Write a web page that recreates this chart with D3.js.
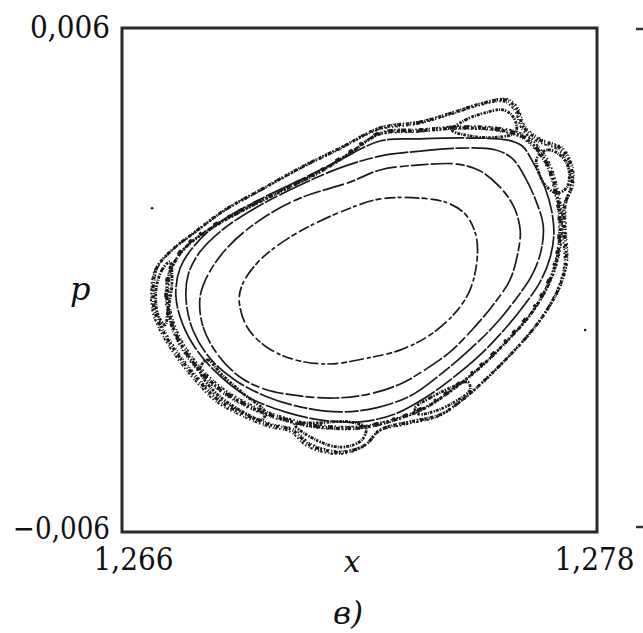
<!DOCTYPE html>
<html>
<head>
<meta charset="utf-8">
<script src="https://cdn.jsdelivr.net/npm/d3@7"></script>
<style>
  html, body { margin: 0; padding: 0; background: #fff; }
  svg { display: block; }
</style>
</head>
<body>
<script>
// tick labels on the two axes
const X_TICKS = [1.266, 1.278];
const P_TICKS = [-0.006, 0.006];

// regular invariant curves, innermost first, as [x, p]
const torus1 = [
  [1.26896, -0.00048], [1.26916, -0.00112], [1.26966, -0.00160], [1.27037, -0.00190],
  [1.27125, -0.00200], [1.27219, -0.00186], [1.27302, -0.00167], [1.27378, -0.00131],
  [1.27441, -0.00079], [1.27479, -0.00024], [1.27497, 0.00048], [1.27494, 0.00107],
  [1.27469, 0.00155], [1.27424, 0.00183], [1.27353, 0.00195], [1.27252, 0.00193],
  [1.27176, 0.00171], [1.27042, 0.00112], [1.26949, 0.00048], [1.26906, -0.00007]
];
const torus2 = [
  [1.26797, -0.00043], [1.26805, -0.00112], [1.26843, -0.00179], [1.26898, -0.00231],
  [1.26961, -0.00260], [1.27050, -0.00276], [1.27138, -0.00281], [1.27227, -0.00271],
  [1.27302, -0.00248], [1.27365, -0.00214], [1.27429, -0.00171], [1.27484, -0.00119],
  [1.27537, -0.00060], [1.27580, 0.00000], [1.27600, 0.00064], [1.27606, 0.00119],
  [1.27590, 0.00174], [1.27555, 0.00221], [1.27504, 0.00260], [1.27446, 0.00276],
  [1.27353, 0.00274], [1.27252, 0.00262], [1.27176, 0.00233], [1.27050, 0.00195],
  [1.26949, 0.00143], [1.26868, 0.00079], [1.26817, 0.00012]
];
const torus3 = [
  [1.27252, 0.00295], [1.27353, 0.00307], [1.27454, 0.00314], [1.27542, 0.00310],
  [1.27585, 0.00290], [1.27618, 0.00245], [1.27648, 0.00183], [1.27664, 0.00131],
  [1.27659, 0.00071], [1.27636, 0.00012], [1.27593, -0.00048], [1.27537, -0.00112],
  [1.27472, -0.00171], [1.27403, -0.00226], [1.27328, -0.00276], [1.27239, -0.00305],
  [1.27151, -0.00314], [1.27050, -0.00302], [1.26961, -0.00276], [1.26885, -0.00238],
  [1.26822, -0.00186], [1.26779, -0.00119], [1.26762, -0.00048], [1.26767, 0.00012],
  [1.26797, 0.00067], [1.26853, 0.00119], [1.26936, 0.00171], [1.27050, 0.00226],
  [1.27151, 0.00267]
];
const torus4 = [
  [1.27252, 0.00331], [1.27353, 0.00336], [1.27479, 0.00338], [1.27575, 0.00333],
  [1.27611, 0.00319], [1.27638, 0.00281], [1.27669, 0.00219], [1.27686, 0.00162],
  [1.27691, 0.00107], [1.27681, 0.00052], [1.27656, -0.00005], [1.27616, -0.00060],
  [1.27565, -0.00119], [1.27504, -0.00179], [1.27436, -0.00233], [1.27365, -0.00281],
  [1.27290, -0.00319], [1.27201, -0.00338], [1.27100, -0.00333], [1.27012, -0.00314],
  [1.26923, -0.00281], [1.26853, -0.00233], [1.26792, -0.00171], [1.26752, -0.00102],
  [1.26736, -0.00036], [1.26747, 0.00029], [1.26784, 0.00083], [1.26848, 0.00138],
  [1.26944, 0.00190], [1.27050, 0.00238], [1.27151, 0.00286]
];

// chaotic layer: outer edge and a middle trace
const chaosOuter = [
  [1.27252, 0.00362], [1.27353, 0.00376], [1.27441, 0.00400], [1.27504, 0.00419],
  [1.27568, 0.00429], [1.27595, 0.00410], [1.27616, 0.00362], [1.27656, 0.00333],
  [1.27707, 0.00314], [1.27732, 0.00279], [1.27737, 0.00226], [1.27719, 0.00179],
  [1.27719, 0.00107], [1.27722, 0.00043], [1.27707, -0.00012], [1.27674, -0.00071],
  [1.27631, -0.00126], [1.27580, -0.00179], [1.27517, -0.00238], [1.27459, -0.00286],
  [1.27403, -0.00321], [1.27328, -0.00338], [1.27252, -0.00357], [1.27214, -0.00393],
  [1.27151, -0.00410], [1.27075, -0.00393], [1.27029, -0.00357], [1.26974, -0.00345],
  [1.26911, -0.00321], [1.26843, -0.00286], [1.26792, -0.00238], [1.26747, -0.00186],
  [1.26709, -0.00131], [1.26683, -0.00076], [1.26678, -0.00024], [1.26688, 0.00029],
  [1.26726, 0.00071], [1.26784, 0.00114], [1.26860, 0.00167], [1.26949, 0.00214],
  [1.27050, 0.00267], [1.27151, 0.00314]
];
const chaosMid = [
  [1.27252, 0.00348], [1.27353, 0.00355], [1.27454, 0.00362], [1.27555, 0.00357],
  [1.27618, 0.00338], [1.27669, 0.00286], [1.27696, 0.00214], [1.27707, 0.00143],
  [1.27701, 0.00060], [1.27676, -0.00012], [1.27631, -0.00083], [1.27575, -0.00143],
  [1.27512, -0.00202], [1.27441, -0.00257], [1.27365, -0.00305], [1.27290, -0.00333],
  [1.27201, -0.00352], [1.27100, -0.00350], [1.27012, -0.00333], [1.26923, -0.00302],
  [1.26843, -0.00257], [1.26779, -0.00195], [1.26734, -0.00124], [1.26714, -0.00048],
  [1.26721, 0.00019], [1.26754, 0.00071], [1.26810, 0.00114], [1.26898, 0.00162],
  [1.26999, 0.00210], [1.27100, 0.00257], [1.27176, 0.00302]
];

// island chains inside the chaotic layer
const islandTop = [
  [1.27434, 0.00357], [1.27467, 0.00381], [1.27517, 0.00398], [1.27563, 0.00405],
  [1.27590, 0.00386], [1.27595, 0.00352], [1.27547, 0.00340], [1.27479, 0.00343]
];
const islandRight = [
  [1.27648, 0.00290], [1.27676, 0.00310], [1.27712, 0.00293], [1.27729, 0.00262],
  [1.27724, 0.00221], [1.27699, 0.00207], [1.27669, 0.00226], [1.27651, 0.00262]
];
const islandLowerRight = [
  [1.27340, -0.00305], [1.27378, -0.00281], [1.27429, -0.00257], [1.27474, -0.00243],
  [1.27479, -0.00262], [1.27441, -0.00290], [1.27391, -0.00312], [1.27348, -0.00319]
];
const islandBottom = [
  [1.27037, -0.00345], [1.27100, -0.00340], [1.27176, -0.00338], [1.27216, -0.00352],
  [1.27206, -0.00381], [1.27156, -0.00398], [1.27095, -0.00383]
];
const islandLowerLeft = [
  [1.26797, -0.00214], [1.26815, -0.00190], [1.26853, -0.00226], [1.26911, -0.00274],
  [1.26961, -0.00314], [1.26954, -0.00333], [1.26898, -0.00310], [1.26835, -0.00267]
];
const islandLeft = [
  [1.26686, -0.00024], [1.26701, 0.00024], [1.26721, 0.00043], [1.26726, -0.00012],
  [1.26716, -0.00071], [1.26709, -0.00107], [1.26691, -0.00083]
];

const strayPoints = [[1.26676, 0.00171], [1.27770, -0.00119]];

const W = 643, H = 633;
const INK = '#1a1a1a';
const SERIF = "'DejaVu Serif', 'Liberation Serif', serif";

const svg = d3.select('body').append('svg')
  .attr('width', W)
  .attr('height', H);

const x = d3.scaleLinear().domain(d3.extent(X_TICKS)).range([122, 597]);
const y = d3.scaleLinear().domain(d3.extent(P_TICKS)).range([532, 28]);

const locale = d3.formatLocale({
  decimal: ',', thousands: ' ', grouping: [3], currency: ['', ''], minus: '\u2212'
});
const fmt = locale.format('.3f');

const line = d3.line()
  .x(d => x(d[0]))
  .y(d => y(d[1]))
  .curve(d3.curveCatmullRomClosed.alpha(0.5));

/*
  Chaotic layer, drawn as stippled traces
*/
const chaos = svg.append('g').attr('fill', 'none').attr('stroke', INK);

[chaosOuter, chaosMid].forEach((ring, i) => {
  chaos.append('path')
    .attr('d', line(ring))
    .attr('stroke-width', 3)
    .attr('stroke-dasharray', i ? '2 1.5 4 1 1 2.5 3 1 1.5 2' : '3 1 1 2 2 1 4 1.5 1 2.5');
  chaos.append('path')
    .attr('d', line(ring))
    .attr('stroke-width', 1.8)
    .attr('transform', i ? 'translate(1.8,-1.8)' : 'translate(-1.8,1.8)')
    .attr('stroke-dasharray', '1.5 2 2.5 1 1 2.5');
  chaos.append('path')
    .attr('d', line(ring))
    .attr('stroke-width', 1.4)
    .attr('transform', i ? 'translate(-1.5,1.2)' : 'translate(1.5,-1.2)')
    .attr('stroke-dasharray', '1 3 2 2 1 1.5');
});

// heavier blotches along the middle of the layer
chaos.append('path')
  .attr('d', line(chaosMid))
  .attr('stroke-width', 3.6)
  .attr('transform', 'translate(-0.8,-0.8)')
  .attr('stroke-dasharray', '4 9 3 14 5 11');

[islandTop, islandRight, islandLowerRight, islandBottom, islandLowerLeft, islandLeft]
  .forEach(isl => {
    chaos.append('path')
      .attr('d', line(isl))
      .attr('stroke-width', 2.8)
      .attr('stroke-dasharray', '3 1 1.5 1.5 2.5 1 1 1');
  });

svg.append('g')
  .selectAll('circle')
  .data(strayPoints)
  .join('circle')
    .attr('cx', d => x(d[0]))
    .attr('cy', d => y(d[1]))
    .attr('r', 1.3)
    .attr('fill', INK);

/*
  Regular curves
*/
const tori = [
  { pts: torus1, dash: '11 3 6 2 15 3 4 2' },
  { pts: torus2, dash: '18 2 9 3 22 2' },
  { pts: torus3, dash: '34 1.5 14 2' },
  { pts: torus4, dash: '44 1.5 20 1.5' }
];
svg.append('g')
  .selectAll('path')
  .data(tori)
  .join('path')
    .attr('d', d => line(d.pts))
    .attr('fill', 'none')
    .attr('stroke', INK)
    .attr('stroke-width', 1.7)
    .attr('stroke-dasharray', d => d.dash);

/*
  Frame and axes
*/
svg.append('rect')
  .attr('x', x.range()[0])
  .attr('y', y.range()[1])
  .attr('width', x.range()[1] - x.range()[0])
  .attr('height', y.range()[0] - y.range()[1])
  .attr('fill', 'none')
  .attr('stroke', '#2a2a2a')
  .attr('stroke-width', 3);

const xAxis = svg.append('g')
  .attr('transform', `translate(0,${y.range()[0]})`)
  .call(d3.axisBottom(x).tickValues(X_TICKS).tickFormat(fmt).tickSize(0).tickPadding(16));
xAxis.selectAll('text').attr('dx', (d, i) => i ? -3 : 11);

const yAxis = svg.append('g')
  .attr('transform', `translate(${x.range()[0]},0)`)
  .call(d3.axisLeft(y).tickValues(P_TICKS).tickFormat(fmt).tickSize(0).tickPadding(12));
yAxis.selectAll('text').attr('dy', d => d < 0 ? '0.22em' : '0.32em');

[xAxis, yAxis].forEach(ax => {
  ax.select('.domain').remove();
  ax.attr('font-family', null);
  ax.selectAll('text')
    .style('font-family', SERIF)
    .style('font-size', '31px')
    .attr('fill', '#111')
    .attr('textLength', d => d < 0 ? 97 : 80)
    .attr('lengthAdjust', 'spacingAndGlyphs');
});

function label(txt, px, py, size, anchor) {
  svg.append('text')
    .attr('x', px)
    .attr('y', py)
    .attr('text-anchor', anchor || 'start')
    .style('font-family', SERIF)
    .style('font-style', 'italic')
    .style('font-size', size + 'px')
    .attr('fill', '#111')
    .text(txt);
}
label('x', 352, 572, 30, 'middle');
label('p', 70, 300, 32);
label('в)', 333, 624, 31);

// edge ticks of the neighbouring panel
svg.append('g')
  .attr('stroke', '#333')
  .attr('stroke-width', 2.5)
  .selectAll('line')
  .data(P_TICKS)
  .join('line')
    .attr('x1', 636).attr('x2', W)
    .attr('y1', d => y(d) + (d > 0 ? 1 : -5))
    .attr('y2', d => y(d) + (d > 0 ? 1 : -5));
</script>
</body>
</html>
